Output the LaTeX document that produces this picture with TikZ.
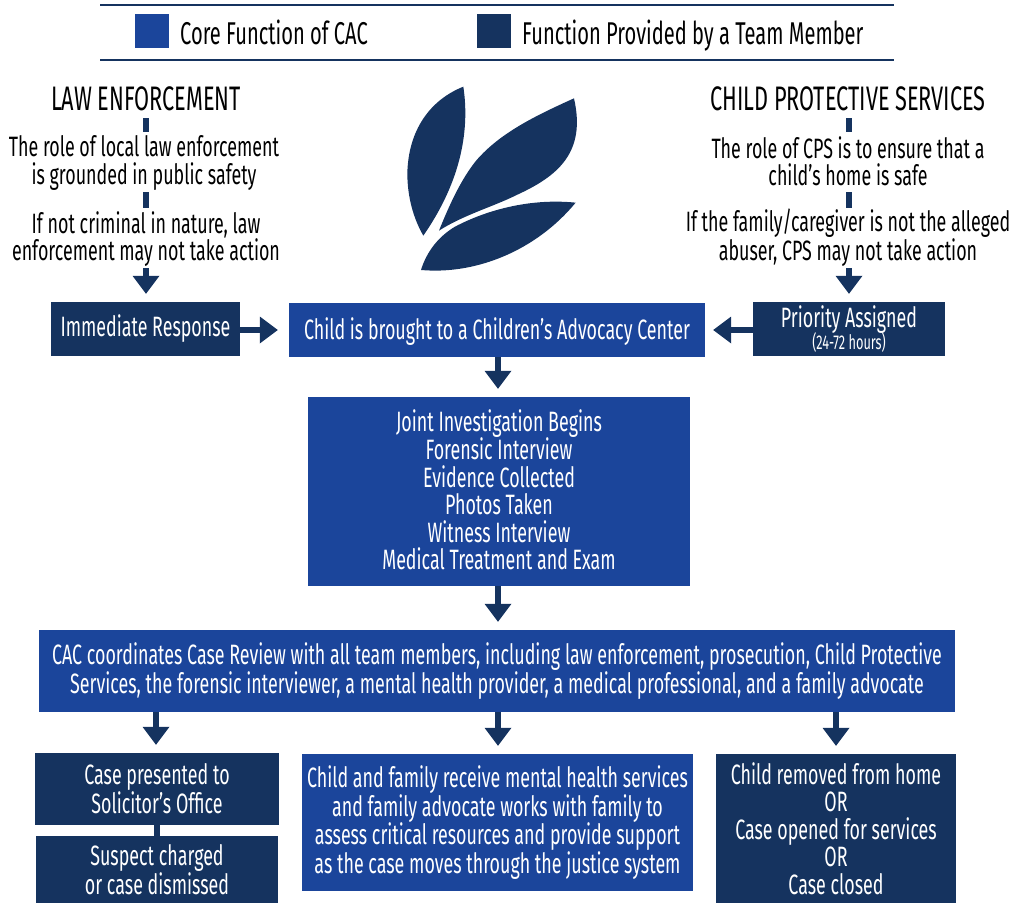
\documentclass[tikz,border=0pt]{standalone}
\usepackage{fontspec}
\setmainfont[FakeStretch=0.638]{Fira Sans}
\usetikzlibrary{arrows.meta}
\definecolor{teamblue}{HTML}{15335F}
\definecolor{coreblue}{HTML}{1B459B}
\tikzset{
  x=1pt,y=-1pt,
  base/.style={inner sep=0pt,align=center,font=\fontsize{28}{27.5}\selectfont},
  plain/.style={base,text=black},
  teambox/.style={base,fill=teamblue,text=white},
  corebox/.style={base,fill=coreblue,text=white},
  link/.style={draw=teamblue,line width=6.5pt},
  flow/.style={link,-{Triangle[width=27pt,length=18pt,round,line width=0pt]},shorten >=8pt},
  rulel/.style={draw=teamblue,line width=2pt},
  titletext/.style={plain,font=\fontsize{34}{36}\selectfont},
  legendtext/.style={plain,anchor=base west,font=\fontsize{31.5}{33}\selectfont},
}
\newcommand{\boxat}[7]{\node[#1,minimum width=#5pt-#4pt,minimum height=#7pt-#6pt] (#2) at ({(#4+#5)/2},{(#6+#7)/2}) {#3};}
\begin{document}
\begin{tikzpicture}
\useasboundingbox (0,0) rectangle (1011,903);
% legend
\coordinate (r1a) at (100,5); \coordinate (r1b) at (894,5);
\coordinate (r2a) at (100,60); \coordinate (r2b) at (894,60);
\draw[rulel] (r1a) -- (r1b);
\draw[rulel] (r2a) -- (r2b);
\boxat{corebox}{legcore}{}{135}{169}{14}{48}
\boxat{teambox}{legteam}{}{477}{511}{14}{48}
\node[legendtext] (legcoret) at (180,44) {Core Function of CAC};
\node[legendtext] (legteamt) at (522,44) {Function Provided by a Team Member};
% logo
\begin{scope}[shift={(400,70)},x=0.3333pt,y=-0.3333pt]
\fill[teamblue] (190,50) .. controls (90,90) and (25,180) .. (22,310) .. controls (22,380) and (40,445) .. (70,497) .. controls (130,410) and (220,250) .. (190,50) -- cycle;
\fill[teamblue] (522,85) .. controls (400,140) and (300,190) .. (230,270) .. controls (185,325) and (150,400) .. (117,482) .. controls (190,435) and (280,410) .. (350,375) .. controls (470,320) and (560,250) .. (522,85) -- cycle;
\fill[teamblue] (527,398) .. controls (400,385) and (270,415) .. (165,470) .. controls (115,500) and (80,545) .. (63,600) .. controls (230,615) and (410,540) .. (527,398) -- cycle;
\end{scope}
% left column
\node[titletext] (lawt) at (146,99) {LAW ENFORCEMENT};
\node[plain] (lawa) at (144,163) {The role of local law enforcement\\is grounded in public safety};
\node[plain] (lawb) at (146,239) {If not criminal in nature, law\\enforcement may not take action};
\boxat{teambox}{imm}{Immediate Response}{51}{240}{302}{356}
% right column
\node[titletext] (cpst) at (848,99) {CHILD PROTECTIVE SERVICES};
\node[plain] (cpsa) at (848,161) {The role of CPS is to ensure that a\\child’s home is safe};
\node[plain] (cpsb) at (848,238) {If the family/caregiver is not the alleged\\abuser, CPS may not take action};
\boxat{teambox}{pri}{Priority Assigned\\[-5pt]{\fontsize{20}{20}\selectfont (24-72 hours)}}{753}{945}{302}{356}
% centre
\boxat{corebox}{child}{\rule{0pt}{24pt}Child is brought to a Children’s Advocacy Center}{289}{705}{303}{357}
\boxat{corebox}{joint}{Joint Investigation Begins\\Forensic Interview\\Evidence Collected\\Photos Taken\\Witness Interview\\Medical Treatment and Exam\rule[-4pt]{0pt}{4pt}}{308}{690}{397}{586}
\boxat{corebox}{review}{CAC coordinates Case Review with all team members, including law enforcement, prosecution, Child Protective\\Services, the forensic interviewer, a mental health provider, a medical professional, and a family advocate}{39}{955}{630}{712}
\boxat{teambox}{solic}{Case presented to\\Solicitor’s Office}{35}{279}{753}{825}
\boxat{teambox}{susp}{Suspect charged\\or case dismissed}{36}{278}{836}{903}
\boxat{corebox}{family}{Child and family receive mental health services\\and family advocate works with family to\\assess critical resources and provide support\\as the case moves through the justice system}{302}{693}{754}{891}
\boxat{teambox}{removed}{Child removed from home\\OR\\Case opened for services\\OR\\Case closed}{716}{956}{754}{903}
% connectors
\draw[link] (lawt.south |- 0,118) -- (lawt.south |- 0,132);
\draw[link] (lawt.south |- 0,192) -- (lawt.south |- 0,208);
\draw[link] ([xshift=1pt]cpst.south |- 0,118) -- ([xshift=1pt]cpst.south |- 0,132);
\draw[link] ([xshift=1pt]cpst.south |- 0,192) -- ([xshift=1pt]cpst.south |- 0,208);
\draw[flow] (lawb.south |- 0,268) -- (imm.north -| 146,0);
\draw[flow] ([xshift=1pt]cpsb.south |- 0,268) -- (pri.north -| 849,0);
\draw[flow,shorten >=11pt] (imm.east |- 0,330) -- (child.west |- 0,330);
\draw[flow] (pri.west |- 0,330) -- (child.east |- 0,330);
\draw[flow] (child.south -| 498,0) -- (joint.north -| 498,0);
\draw[flow] (joint.south -| 498,0) -- (review.north -| 498,0);
\draw[flow] (review.south -| 156,0) -- (solic.north -| 156,0);
\draw[flow] (review.south -| 498,0) -- (family.north -| 498,0);
\draw[flow] (review.south -| 836,0) -- (removed.north -| 836,0);
\draw[link] (solic.south) -- (susp.north);
\end{tikzpicture}
\end{document}
